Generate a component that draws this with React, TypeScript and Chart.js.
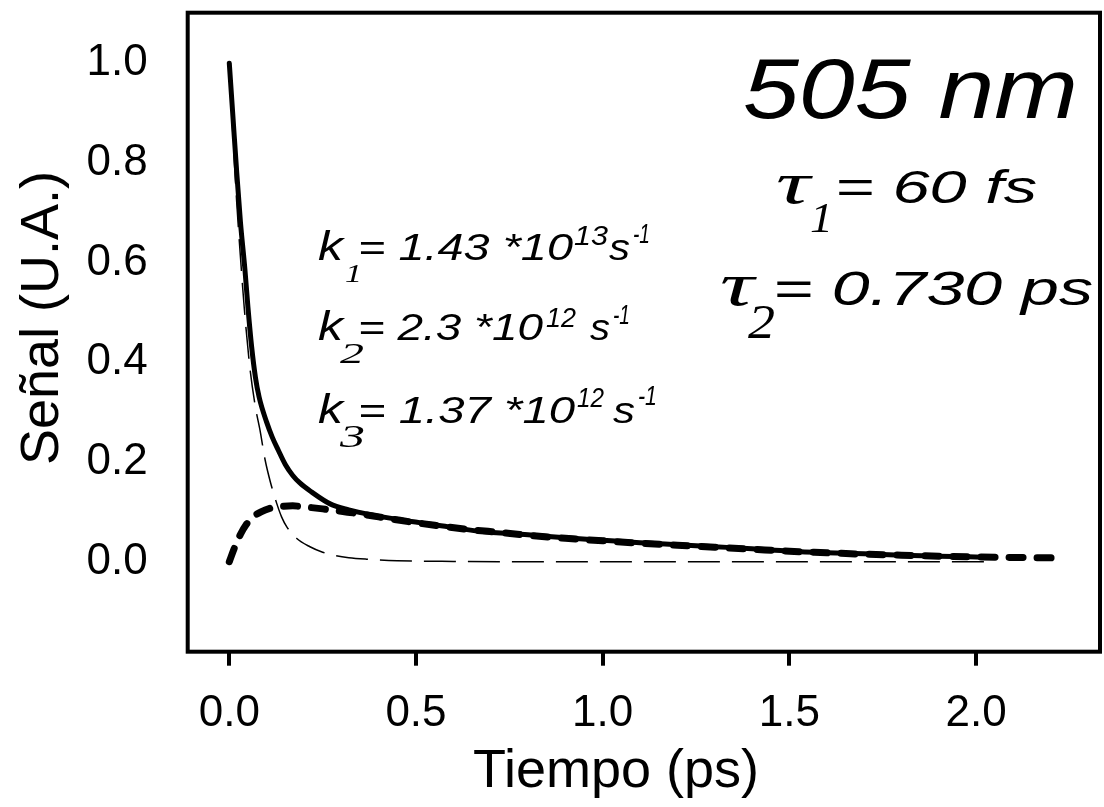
import React, { useEffect, useRef } from 'react';
import { Chart, registerables } from 'chart.js';

Chart.register(...registerables);

// ---- data ----
const totalT = [0, 0.01, 0.02, 0.03, 0.042, 0.05, 0.06, 0.07, 0.08, 0.1, 0.115, 0.131, 0.15, 0.17, 0.189, 0.22, 0.27, 0.32, 0.38, 0.457, 0.55, 0.67, 0.8, 0.9, 1.0, 1.1, 1.2, 1.3, 1.4, 1.5, 1.6, 1.7, 1.8, 1.9, 2.02];
const totalV = [1.0, 0.89, 0.78, 0.68, 0.585, 0.51, 0.43, 0.37, 0.33, 0.28, 0.25, 0.224, 0.195, 0.173, 0.158, 0.14, 0.116, 0.104, 0.094, 0.084, 0.074, 0.061, 0.054, 0.048, 0.043, 0.038, 0.034, 0.03, 0.026, 0.021, 0.018, 0.016, 0.013, 0.011, 0.009];

const fastT = [0, 0.01, 0.02, 0.03, 0.04, 0.055, 0.07, 0.082, 0.096, 0.11, 0.127, 0.14, 0.154, 0.18, 0.216, 0.25, 0.279, 0.32, 0.368, 0.45, 0.6, 0.8, 1.0, 1.5, 2.05];
const fastV = [1.0, 0.85, 0.72, 0.61, 0.51, 0.39, 0.31, 0.265, 0.204, 0.16, 0.117, 0.09, 0.07, 0.047, 0.03, 0.019, 0.013, 0.008, 0.005, 0.002, 0.0005, 0, 0, 0, 0];

const interT = [0, 0.015, 0.03, 0.045, 0.064, 0.085, 0.109, 0.14, 0.17, 0.2, 0.25, 0.3, 0.35, 0.4, 0.457, 0.55, 0.65, 0.72, 0.8, 0.9, 1.0, 1.1, 1.2, 1.3, 1.4, 1.5, 1.6, 1.7, 1.8, 1.9, 2.0, 2.1, 2.225];
const interV = [0, 0.03, 0.055, 0.074, 0.09, 0.1, 0.107, 0.111, 0.112, 0.11, 0.106, 0.101, 0.096, 0.09, 0.083, 0.073, 0.064, 0.059, 0.053, 0.047, 0.042, 0.037, 0.033, 0.029, 0.025, 0.021, 0.018, 0.015, 0.013, 0.011, 0.0095, 0.0085, 0.0075];

const xTickValues = [0, 0.5, 1.0, 1.5, 2.0];
const yTickValues = [0, 0.2, 0.4, 0.6, 0.8, 1.0];
const xTitle = 'Tiempo (ps)';
const yTitle = 'Señal (U.A.)';

const SANS = '"Liberation Sans", Arial, Helvetica, sans-serif';
const SERIF = '"Liberation Serif", "Times New Roman", serif';

// text, left x, baseline y, font, target width
type Piece = [string, number, number, string, number];
const annotations: Piece[] = [
  ['505 nm', 743, 118, `italic 86px ${SANS}`, 335],
  ['τ', 776, 203, `italic 60px ${SERIF}`, 34],
  ['1', 810, 232, `italic 42px ${SERIF}`, 23],
  ['= 60 fs', 835, 203, `italic 46px ${SANS}`, 202],
  ['τ', 720, 305, `italic 62px ${SERIF}`, 34],
  ['2', 748, 338, `italic 48px ${SERIF}`, 27],
  ['= 0.730 ps', 773, 305, `italic 49px ${SANS}`, 320],

  ['k', 318, 260, `italic 40px ${SANS}`, 25],
  ['1', 345, 282, `italic 26px ${SERIF}`, 17],
  ['= 1.43 *10', 358, 260, `italic 36px ${SANS}`, 215],
  ['13', 574, 245, `italic 28px ${SANS}`, 34],
  ['s', 609, 260, `italic 36px ${SANS}`, 21],
  ['-1', 633, 243, `italic 27px ${SANS}`, 17],

  ['k', 318, 340, `italic 40px ${SANS}`, 25],
  ['2', 340, 363, `italic 30px ${SERIF}`, 24],
  ['= 2.3 *10', 358, 340, `italic 36px ${SANS}`, 185],
  ['12', 546, 327, `italic 28px ${SANS}`, 30],
  ['s', 590, 340, `italic 36px ${SANS}`, 20],
  ['-1', 613, 324, `italic 27px ${SANS}`, 17],

  ['k', 318, 423, `italic 40px ${SANS}`, 25],
  ['3', 340, 447, `italic 32px ${SERIF}`, 25],
  ['= 1.37 *10', 358, 423, `italic 36px ${SANS}`, 217],
  ['12', 577, 407, `italic 28px ${SANS}`, 27],
  ['s', 613, 423, `italic 36px ${SANS}`, 22],
  ['-1', 638, 405, `italic 27px ${SANS}`, 19],
];

const pts = (t: number[], v: number[]) => t.map((x, i) => ({ x, y: v[i] }));

const framePlugin = {
  id: 'frameAndText',
  afterDraw(chart: any) {
    const { ctx, chartArea } = chart;
    const { left, top, right, bottom } = chartArea;
    ctx.save();
    ctx.strokeStyle = '#000';
    ctx.lineWidth = 4;
    ctx.lineJoin = 'miter';
    ctx.strokeRect(left, top, right - left, bottom - top);

    ctx.fillStyle = '#000';
    ctx.textBaseline = 'alphabetic';
    ctx.textAlign = 'left';
    for (const [text, x, y, font, w] of annotations) {
      ctx.save();
      ctx.font = font;
      const m = ctx.measureText(text).width;
      ctx.translate(x, y);
      ctx.scale(w / m, 1);
      ctx.fillText(text, 0, 0);
      ctx.restore();
    }

    // axis titles
    ctx.font = `54px ${SANS}`;
    ctx.textAlign = 'center';
    ctx.fillText(xTitle, 616, 787);
    ctx.save();
    ctx.translate(58, 318);
    ctx.rotate(-Math.PI / 2);
    ctx.fillText(yTitle, 0, 0);
    ctx.restore();
    ctx.restore();
  },
};

export default function App() {
  const ref = useRef<HTMLCanvasElement>(null);
  useEffect(() => {
    if (!ref.current) return;
    const chart = new Chart(ref.current, {
      type: 'scatter',
      data: {
        datasets: [
          {
            data: pts(interT, interV),
            showLine: true,
            borderColor: '#000',
            borderWidth: 7,
            borderDash: [14, 14],
            borderCapStyle: 'round',
            pointRadius: 0,
            cubicInterpolationMode: 'monotone',
            order: 1,
          },
          {
            data: pts(totalT, totalV),
            showLine: true,
            borderColor: '#000',
            borderWidth: 5,
            borderCapStyle: 'round',
            pointRadius: 0,
            cubicInterpolationMode: 'monotone',
            order: 2,
          },
          {
            data: pts(fastT, fastV),
            showLine: true,
            borderColor: '#000',
            borderWidth: 1.5,
            borderDash: [32, 12],
            pointRadius: 0,
            cubicInterpolationMode: 'monotone',
            order: 3,
          },
        ],
      } as any,
      options: {
        animation: false,
        responsive: false,
        devicePixelRatio: 1,
        layout: { padding: { top: 12.7, right: 4, left: 0, bottom: 0 } },
        plugins: { legend: { display: false }, tooltip: { enabled: false } },
        scales: {
          x: {
            type: 'linear',
            min: -0.1114,
            max: 2.332,
            afterBuildTicks: (s: any) => {
              s.ticks = xTickValues.map((value) => ({ value }));
            },
            afterFit: (s: any) => {
              s.height = 807 - 651.7;
              s.paddingLeft = 0;
              s.paddingRight = 0;
            },
            ticks: {
              color: '#000',
              font: { family: SANS, size: 44 },
              padding: 22,
              maxRotation: 0,
              autoSkip: false,
              callback: (v: any) => Number(v).toFixed(1),
            },
            grid: {
              display: true,
              drawOnChartArea: false,
              drawTicks: true,
              tickLength: 14,
              color: '#000',
              lineWidth: 4,
            },
            border: { display: false },
          },
          y: {
            type: 'linear',
            min: -0.1806,
            max: 1.1015,
            afterBuildTicks: (s: any) => {
              s.ticks = yTickValues.map((value) => ({ value }));
            },
            afterFit: (s: any) => {
              s.width = 187.7;
              s.paddingTop = 0;
              s.paddingBottom = 0;
            },
            ticks: {
              color: '#000',
              font: { family: SANS, size: 44 },
              padding: 40,
              autoSkip: false,
              callback: (v: any) => Number(v).toFixed(1),
            },
            grid: { display: false, drawTicks: false },
            border: { display: false },
          },
        },
      } as any,
      plugins: [framePlugin],
    });
    return () => chart.destroy();
  }, []);
  return (
    <canvas
      ref={ref}
      width={1104}
      height={807}
      style={{ position: 'absolute', left: 0, top: 0, width: 1104, height: 807 }}
    />
  );
}
